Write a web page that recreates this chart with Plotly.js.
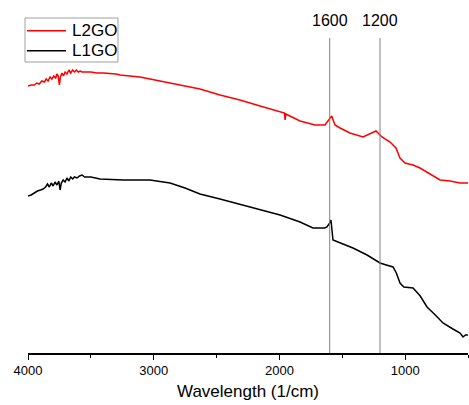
<!DOCTYPE html>
<html>
<head>
<meta charset="utf-8">
<script src="https://cdn.plot.ly/plotly-3.0.1.min.js"></script>
<style>html,body{margin:0;padding:0;background:#fff;}#chart{width:469px;height:405px;}</style>
</head>
<body>
<div id="chart"></div>
<script>
// L2GO (red) spectrum: wavenumber (1/cm) and intensity (a.u.)
const l2goX = [4000,3975,3950,3930,3910,3890,3870,3855,3840,3825,3810,3795,3780,3770,3760,3750,3742,3730,3718,3705,3690,3675,3660,3645,3630,3615,3600,3585,3570,3550,3520,3500,3450,3400,3300,3268,3109,2950,2791,2632,2473,2314,2154,1995,1960,1955,1950,1836,1717,1638,1606,1584,1570,1558,1518,1439,1335,1280,1232,1184,1120,1073,1041,1001,937,882,826,722,643,563,500];
const l2goY = [267,268,268,270,269,272,271,274,272,276,274,277,275,279,277,268,276,280,277,281,279,283,280,283,281,283,281,282,281,281,281,281,280,280,279,278,276,272,268,264,258,253,247,241,240,233,239,232,228,228,233,237,232,228,225,220,216,219,222,216,211,205,195,190,188,185,181,173,172,170,170];
// L1GO (black) spectrum
const l1goX = [4000,3975,3950,3925,3900,3880,3860,3845,3830,3815,3800,3785,3770,3755,3745,3735,3720,3705,3690,3675,3660,3645,3630,3610,3590,3570,3550,3520,3500,3427,3244,3030,2870,2751,2632,2473,2234,1995,1836,1733,1640,1622,1600,1590,1578,1574,1534,1415,1303,1200,1150,1096,1070,1041,1010,937,880,826,760,699,620,563,540,520,500];
const l1goY = [157,158,160,162,163,164,166,169,166,170,167,171,168,172,163,170,173,171,175,172,176,174,176,175,177,178,176,176,176,174,173,173,170,165,159,154,146,138,131,125,125,126,130,133,118,113,111,105,98,90,88,86,80,70,66,65,57,46,38,30,24,20,16,18,18];
// marker lines
const markX = [1600, 1200];
const markLabels = ['1600', '1200'];
const xTicks = [4000, 3000, 2000, 1000];
const seriesNames = ['L2GO', 'L1GO'];
const seriesColors = ['#ff0000', '#000000'];

const traces = [
  {x: l2goX, y: l2goY, name: seriesNames[0], type: 'scatter', mode: 'lines', line: {color: seriesColors[0], width: 1.5}},
  {x: l1goX, y: l1goY, name: seriesNames[1], type: 'scatter', mode: 'lines', line: {color: seriesColors[1], width: 1.5}}
];

// legend drawn in paper coordinates
const legRowY = [1.0232, 0.9597];
const legendShapes = [
  {type: 'rect', xref: 'paper', yref: 'paper', x0: -0.0068, x1: 0.2045, y0: 0.9238, y1: 1.0635, line: {color: '#a0a0a0', width: 1}, fillcolor: '#fff', layer: 'above'}
].concat(seriesNames.map((n, i) => ({type: 'line', xref: 'paper', yref: 'paper', x0: -0.0023, x1: 0.0864, y0: legRowY[i], y1: legRowY[i], line: {color: seriesColors[i], width: 1.5}, layer: 'above'})));
const legendText = seriesNames.map((n, i) => ({x: 0.0955, xref: 'paper', y: legRowY[i], yref: 'paper', text: n, showarrow: false, xanchor: 'left', yanchor: 'middle', font: {size: 17}}));

const layout = {
  width: 469, height: 405,
  margin: {l: 28, r: 1, t: 38, b: 52},
  paper_bgcolor: '#fff', plot_bgcolor: '#fff',
  font: {family: 'Arial, Liberation Sans, sans-serif', color: '#000'},
  showlegend: false,
  xaxis: {
    range: [4000, 500], tickvals: xTicks, ticktext: xTicks.map(String),
    ticks: 'outside', ticklen: 5, tickwidth: 1, tickcolor: '#000',
    minor: {dtick: 500, ticks: 'outside', ticklen: 3, tickcolor: '#000'},
    showline: true, linecolor: '#000', linewidth: 1.5, showgrid: false, zeroline: false,
    tickfont: {size: 13},
    title: {text: 'Wavelength (1/cm)', font: {size: 17}, standoff: 8}
  },
  yaxis: {range: [0, 315], visible: false, showgrid: false, zeroline: false},
  shapes: markX.map(v => ({type: 'line', xref: 'x', yref: 'paper', x0: v, x1: v, y0: 0, y1: 1, line: {color: '#808080', width: 1}})).concat(legendShapes),
  annotations: markX.map((v, i) => ({x: v, xref: 'x', y: 1.054, yref: 'paper', text: markLabels[i], showarrow: false, xanchor: 'center', yanchor: 'middle', font: {size: 16}})).concat(legendText)
};

Plotly.newPlot('chart', traces, layout, {displayModeBar: false, staticPlot: true});
</script>
</body>
</html>
